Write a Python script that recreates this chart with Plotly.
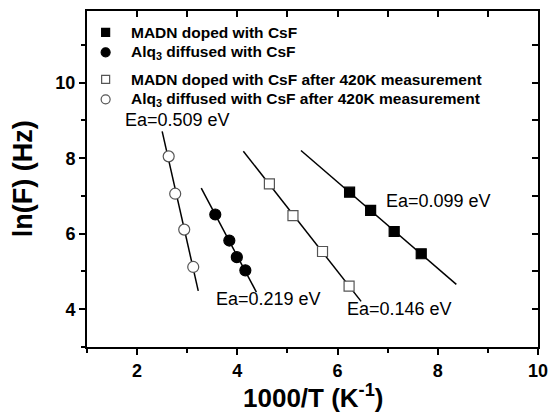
import numpy as np
import plotly.graph_objects as go

# ---- data ----
x_madn = [6.24, 6.66, 7.13, 7.67]
y_madn = [7.10, 6.62, 6.06, 5.47]
x_alq = [3.56, 3.84, 3.99, 4.16]
y_alq = [6.51, 5.82, 5.38, 5.03]
x_madn_420 = [4.64, 5.11, 5.70, 6.23]
y_madn_420 = [7.32, 6.48, 5.53, 4.61]
x_alq_420 = [2.63, 2.76, 2.94, 3.12]
y_alq_420 = [8.05, 7.06, 6.11, 5.12]

# x extent of each linear fit line
span_madn = [5.27, 8.37]
span_alq = [3.28, 4.38]
span_madn_420 = [4.12, 6.47]
span_alq_420 = [2.50, 3.22]

names = ["MADN doped with CsF",
         "Alq<sub>3</sub> diffused with CsF",
         "MADN doped with CsF after 420K measurement",
         "Alq<sub>3</sub> diffused with CsF after 420K measurement"]
ea_labels = ["Ea=0.099 eV", "Ea=0.219 eV", "Ea=0.146 eV", "Ea=0.509 eV"]

# ---- layout helpers ----
ea_pos = [(8.01, 6.88), (4.62, 4.26), (7.23, 4.00), (2.81, 9.01)]
W, H = 559, 412
ml, mr, mt, mb = 87, 12, 11, 65
pw = W - ml - mr
ph = H - mt - mb
FONT = "Liberation Sans, Arial"

# legend layout in page pixels
leg_marker_x = 106
leg_text_x = 130
leg_rows_y = [32.3, 52.3, 79.3, 99.3]

fig = go.Figure()

series = [
    (x_madn, y_madn, span_madn, "square", "black", 10),
    (x_alq, y_alq, span_alq, "circle", "black", 11),
    (x_madn_420, y_madn_420, span_madn_420, "square", "white", 10),
    (x_alq_420, y_alq_420, span_alq_420, "circle", "white", 11),
]

# fit lines first (under markers)
for xs, ys, span, *_ in series:
    k, b = np.polyfit(xs, ys, 1)
    xl = np.array(span)
    fig.add_trace(go.Scatter(x=xl, y=k * xl + b, mode="lines",
                             line=dict(color="black", width=1.5),
                             showlegend=False, hoverinfo="skip"))

for (xs, ys, span, sym, fill, size), nm, ry in zip(series, names, leg_rows_y):
    lc = "black" if fill == "black" else "#555555"
    mk = dict(symbol=sym, size=size, color=fill, line=dict(color=lc, width=1.2))
    fig.add_trace(go.Scatter(x=xs, y=ys, mode="markers", name=nm, marker=mk,
                             showlegend=False))
    # legend swatch on pixel-space overlay axes
    mk_leg = dict(mk)
    mk_leg["size"] = size - 2
    fig.add_trace(go.Scatter(x=[leg_marker_x], y=[ry], xaxis="x3", yaxis="y3",
                             mode="markers", marker=mk_leg, showlegend=False,
                             hoverinfo="skip"))
    fig.add_annotation(xref="x3", yref="y3", x=leg_text_x, y=ry, text=nm,
                       showarrow=False, xanchor="left", yanchor="middle",
                       font=dict(family=FONT, size=15.5, color="black", weight="bold"))

# invisible trace for mirror axes
fig.add_trace(go.Scatter(x=[1], y=[3], xaxis="x2", yaxis="y2", mode="markers",
                         marker=dict(opacity=0), showlegend=False, hoverinfo="skip"))

for txt, (ax, ay) in zip(ea_labels, ea_pos):
    fig.add_annotation(x=ax, y=ay, text=txt, showarrow=False,
                       font=dict(family=FONT, size=18, color="black"))

fig.add_annotation(xref="paper", yref="paper", x=0.5, y=-(396 - (H - mb)) / ph,
                   text="1000/T (K<sup>-1</sup>)", showarrow=False,
                   xanchor="center", yanchor="middle",
                   font=dict(family=FONT, size=26, color="black", weight="bold"))
fig.add_annotation(xref="paper", yref="paper", x=-(ml - 22) / pw, y=0.5,
                   text="ln(F) (Hz)", showarrow=False, textangle=-90,
                   xanchor="center", yanchor="middle",
                   font=dict(family=FONT, size=27, color="black", weight="bold"))

tickfont = dict(family=FONT, size=18, color="black", weight="bold")
common = dict(showgrid=False, zeroline=False, showline=True, linecolor="black",
              linewidth=2, ticks="outside", ticklen=6, tickwidth=1.5, tickcolor="black",
              tickfont=tickfont,
              minor=dict(ticks="outside", ticklen=4, tickwidth=1.5, dtick=1, tickcolor="black"))
mirror = dict(ticks="inside", ticklen=6, tickwidth=1.5, tickcolor="black",
              showticklabels=False, showline=True, linecolor="black", linewidth=2,
              showgrid=False, zeroline=False)

fig.update_layout(
    width=W, height=H,
    margin=dict(l=ml, r=mr, t=mt, b=mb),
    paper_bgcolor="white", plot_bgcolor="white",
    xaxis=dict(range=[1, 10], tick0=0, dtick=2, **common),
    yaxis=dict(range=[3, 11.9], tick0=0, dtick=2, **common),
    xaxis2=dict(overlaying="x", side="top", range=[1, 10], tick0=0, dtick=1, **mirror),
    yaxis2=dict(overlaying="y", side="right", range=[3, 11.9], tick0=0, dtick=1, **mirror),
    xaxis3=dict(overlaying="x", range=[ml, W - mr], visible=False, fixedrange=True),
    yaxis3=dict(overlaying="y", range=[H - mb, mt], visible=False, fixedrange=True),
    showlegend=False,
)

fig.write_html("out.html")
